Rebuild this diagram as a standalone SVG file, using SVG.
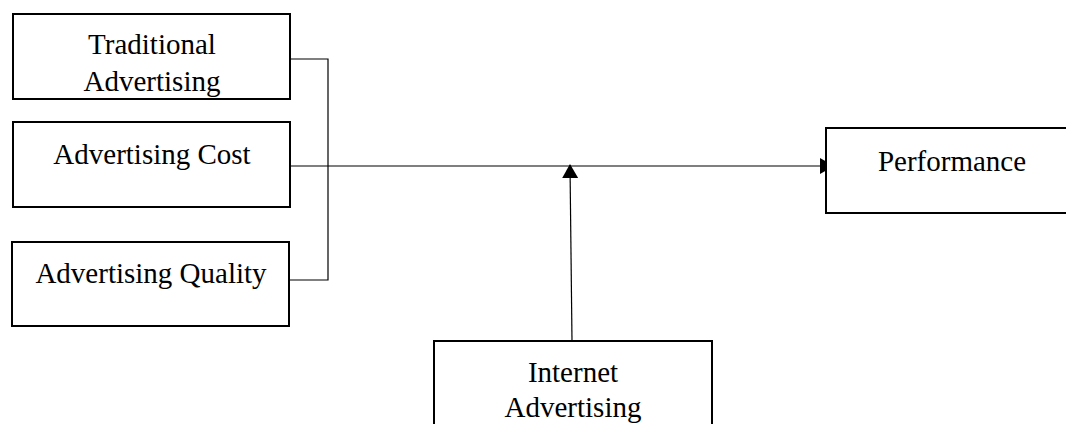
<svg xmlns="http://www.w3.org/2000/svg" width="1066" height="424" viewBox="0 0 1066 424">
<style>
.box{fill:#fff;stroke:#000;stroke-width:2}
.lbl{font-family:"Liberation Serif","Times New Roman",serif;font-size:29px;fill:#000;text-anchor:middle}
.ln{fill:none;stroke:#000;stroke-width:1.2}
</style>
<defs>
<marker id="ah" markerWidth="14" markerHeight="16" refX="13" refY="8" orient="auto" markerUnits="userSpaceOnUse">
<path d="M0,0 L14,8 L0,16 Z" fill="#000"/>
</marker>
</defs>
<rect width="1066" height="424" fill="#fff"/>
<g id="connectors">
<polyline class="ln" points="290,59 328,59 328,280 289,280"/>
<line class="ln" x1="290" y1="166" x2="833" y2="166" marker-end="url(#ah)"/>
<line class="ln" x1="572" y1="341" x2="570" y2="165" marker-end="url(#ah)"/>
</g>
<g id="traditional">
<rect class="box" x="13" y="14" width="277" height="85"/>
<text class="lbl" x="152" y="54">Traditional</text>
<text class="lbl" x="152" y="91">Advertising</text>
</g>
<g id="cost">
<rect class="box" x="13" y="122" width="277" height="85"/>
<text class="lbl" x="152" y="164">Advertising Cost</text>
</g>
<g id="quality">
<rect class="box" x="12" y="242" width="277" height="84"/>
<text class="lbl" x="151" y="283">Advertising Quality</text>
</g>
<g id="performance">
<rect class="box" x="826" y="128" width="260" height="85"/>
<text class="lbl" x="952" y="171">Performance</text>
</g>
<g id="internet">
<rect class="box" x="434" y="341" width="278" height="100"/>
<text class="lbl" x="573" y="382">Internet</text>
<text class="lbl" x="573" y="417">Advertising</text>
</g>
</svg>
